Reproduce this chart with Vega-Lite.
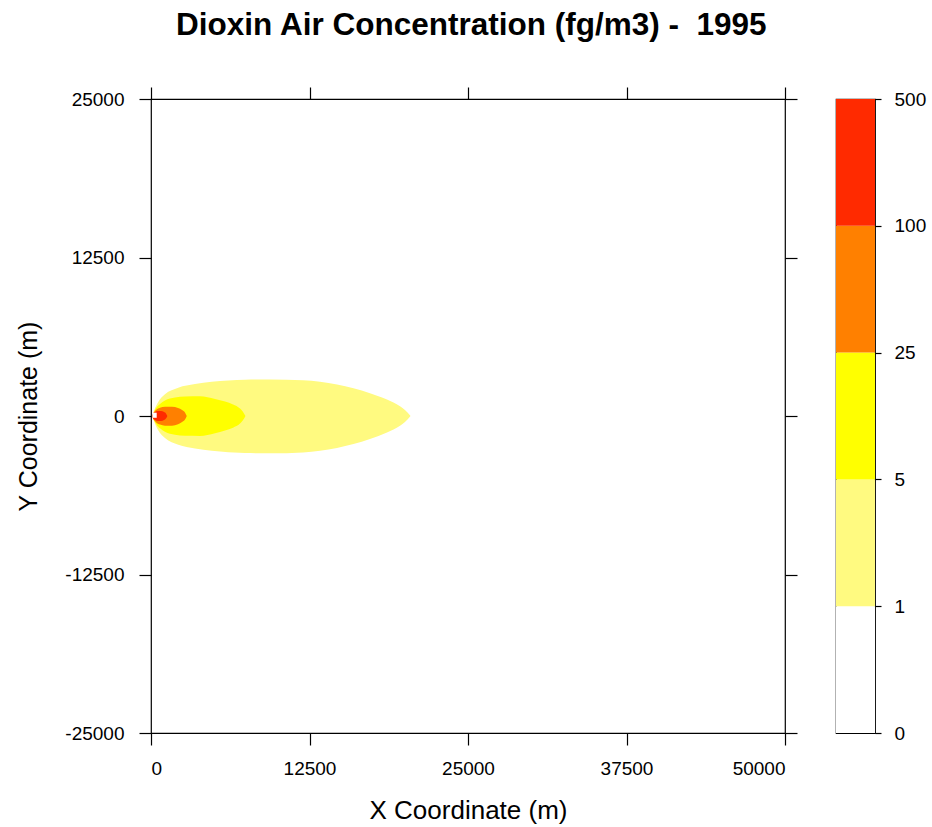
{
  "$schema": "https://vega.github.io/schema/vega-lite/v6.json",
  "background": "white",
  "padding": {"left": 16, "top": 10, "right": 5, "bottom": 5},
  "title": {
    "text": "Dioxin Air Concentration (fg/m3) -\u00a0 1995",
    "font": "Liberation Sans",
    "fontSize": 31.5,
    "fontWeight": "bold",
    "color": "black",
    "anchor": "middle",
    "offset": 44
  },
  "datasets": {
    "plume": [
      {"level": "1–5", "x": 100, "ylo": 0, "yhi": 0},
      {"level": "1–5", "x": 260, "ylo": -480, "yhi": 470},
      {"level": "1–5", "x": 580, "ylo": -1150, "yhi": 1130},
      {"level": "1–5", "x": 1100, "ylo": -1740, "yhi": 1710},
      {"level": "1–5", "x": 2150, "ylo": -2270, "yhi": 2230},
      {"level": "1–5", "x": 3470, "ylo": -2570, "yhi": 2520},
      {"level": "1–5", "x": 4790, "ylo": -2750, "yhi": 2700},
      {"level": "1–5", "x": 7410, "ylo": -2920, "yhi": 2860},
      {"level": "1–5", "x": 9390, "ylo": -2940, "yhi": 2880},
      {"level": "1–5", "x": 11990, "ylo": -2870, "yhi": 2810},
      {"level": "1–5", "x": 14670, "ylo": -2520, "yhi": 2480},
      {"level": "1–5", "x": 17270, "ylo": -1820, "yhi": 1800},
      {"level": "1–5", "x": 18610, "ylo": -1310, "yhi": 1300},
      {"level": "1–5", "x": 19640, "ylo": -770, "yhi": 760},
      {"level": "1–5", "x": 20030, "ylo": -480, "yhi": 480},
      {"level": "1–5", "x": 20470, "ylo": 0, "yhi": 0},

      {"level": "5–25", "x": 120, "ylo": 0, "yhi": 0},
      {"level": "5–25", "x": 240, "ylo": -320, "yhi": 320},
      {"level": "5–25", "x": 470, "ylo": -720, "yhi": 710},
      {"level": "5–25", "x": 710, "ylo": -960, "yhi": 950},
      {"level": "5–25", "x": 1100, "ylo": -1240, "yhi": 1220},
      {"level": "5–25", "x": 1890, "ylo": -1480, "yhi": 1460},
      {"level": "5–25", "x": 2680, "ylo": -1560, "yhi": 1540},
      {"level": "5–25", "x": 3860, "ylo": -1570, "yhi": 1550},
      {"level": "5–25", "x": 5050, "ylo": -1360, "yhi": 1340},
      {"level": "5–25", "x": 5840, "ylo": -1150, "yhi": 1140},
      {"level": "5–25", "x": 6470, "ylo": -920, "yhi": 910},
      {"level": "5–25", "x": 7020, "ylo": -600, "yhi": 590},
      {"level": "5–25", "x": 7260, "ylo": -320, "yhi": 320},
      {"level": "5–25", "x": 7450, "ylo": 0, "yhi": 0},

      {"level": "25–100", "x": 80, "ylo": 0, "yhi": 0},
      {"level": "25–100", "x": 200, "ylo": -250, "yhi": 240},
      {"level": "25–100", "x": 390, "ylo": -490, "yhi": 470},
      {"level": "25–100", "x": 710, "ylo": -680, "yhi": 650},
      {"level": "25–100", "x": 1100, "ylo": -760, "yhi": 730},
      {"level": "25–100", "x": 1660, "ylo": -760, "yhi": 730},
      {"level": "25–100", "x": 2130, "ylo": -650, "yhi": 630},
      {"level": "25–100", "x": 2450, "ylo": -480, "yhi": 470},
      {"level": "25–100", "x": 2680, "ylo": -280, "yhi": 280},
      {"level": "25–100", "x": 2820, "ylo": 0, "yhi": 0},

      {"level": "100–500", "x": 80, "ylo": 0, "yhi": 0},
      {"level": "100–500", "x": 160, "ylo": -200, "yhi": 200},
      {"level": "100–500", "x": 320, "ylo": -320, "yhi": 320},
      {"level": "100–500", "x": 550, "ylo": -400, "yhi": 390},
      {"level": "100–500", "x": 790, "ylo": -400, "yhi": 390},
      {"level": "100–500", "x": 1030, "ylo": -320, "yhi": 310},
      {"level": "100–500", "x": 1180, "ylo": -200, "yhi": 200},
      {"level": "100–500", "x": 1290, "ylo": 0, "yhi": 0},

      {"level": ">500", "x": 110, "ylo": -140, "yhi": 260},
      {"level": ">500", "x": 450, "ylo": -140, "yhi": 260}
    ],
    "key": [
      {"level": "0–1", "lower": 0, "upper": 1},
      {"level": "1–5", "lower": 1, "upper": 2},
      {"level": "5–25", "lower": 2, "upper": 3},
      {"level": "25–100", "lower": 3, "upper": 4},
      {"level": "100–500", "lower": 4, "upper": 5}
    ]
  },
  "hconcat": [
    {
      "width": 634,
      "height": 634,
      "data": {"name": "plume"},
      "layer": [
        {
          "transform": [{"filter": "datum.level === '1–5'"}],
          "mark": {"type": "area", "interpolate": "monotone"},
          "encoding": {
            "x": {
              "field": "x", "type": "quantitative",
              "scale": {"domain": [0, 50000], "nice": false, "zero": false},
              "axis": {"orient": "bottom", "values": [0, 12500, 25000, 37500, 50000], "format": "d", "title": "X Coordinate (m)", "labelPadding": 14, "titlePadding": 19, "titleFontSize": 26}
            },
            "y": {
              "field": "ylo", "type": "quantitative",
              "scale": {"domain": [-25000, 25000], "nice": false, "zero": false},
              "axis": {"orient": "left", "values": [-25000, -12500, 0, 12500, 25000], "format": "d", "labelExpr": "replace(datum.label, '\u2212', '-')", "title": "Y Coordinate (m)", "labelPadding": 15, "titlePadding": 23}
            },
            "y2": {"field": "yhi"},
            "color": {
              "field": "level", "type": "nominal", "legend": null,
              "scale": {
                "domain": ["0–1", "1–5", "5–25", "25–100", "100–500", ">500"],
                "range": ["#FFFFFF", "#FFFA80", "#FFFF00", "#FF8000", "#FF2A00", "#FFFFFF"]
              }
            }
          }
        },
        {
          "transform": [{"filter": "datum.level === '5–25'"}],
          "mark": {"type": "area", "interpolate": "monotone"},
          "encoding": {
            "x": {"field": "x", "type": "quantitative", "axis": null},
            "y": {"field": "ylo", "type": "quantitative", "axis": null},
            "y2": {"field": "yhi"},
            "color": {"field": "level", "type": "nominal", "legend": null}
          }
        },
        {
          "transform": [{"filter": "datum.level === '25–100'"}],
          "mark": {"type": "area", "interpolate": "monotone"},
          "encoding": {
            "x": {"field": "x", "type": "quantitative", "axis": null},
            "y": {"field": "ylo", "type": "quantitative", "axis": null},
            "y2": {"field": "yhi"},
            "color": {"field": "level", "type": "nominal", "legend": null}
          }
        },
        {
          "transform": [{"filter": "datum.level === '100–500'"}],
          "mark": {"type": "area", "interpolate": "monotone"},
          "encoding": {
            "x": {"field": "x", "type": "quantitative", "axis": null},
            "y": {"field": "ylo", "type": "quantitative", "axis": null},
            "y2": {"field": "yhi"},
            "color": {"field": "level", "type": "nominal", "legend": null}
          }
        },
        {
          "transform": [{"filter": "datum.level === '>500'"}],
          "mark": {"type": "area"},
          "encoding": {
            "x": {
              "field": "x", "type": "quantitative",
              "axis": {"orient": "top", "values": [0, 12500, 25000, 37500, 50000], "labels": false, "title": null}
            },
            "y": {
              "field": "ylo", "type": "quantitative",
              "axis": {"orient": "right", "values": [-25000, -12500, 0, 12500, 25000], "labels": false, "title": null}
            },
            "y2": {"field": "yhi"},
            "color": {"field": "level", "type": "nominal", "legend": null}
          }
        }
      ],
      "resolve": {"axis": {"x": "independent", "y": "independent"}}
    },
    {
      "width": 39,
      "height": 634,
      "data": {"name": "key"},
      "mark": {"type": "rect"},
      "encoding": {
        "y": {
          "field": "lower", "type": "quantitative",
          "scale": {"domain": [0, 5], "nice": false, "zero": false},
          "axis": {
            "orient": "right",
            "values": [0, 1, 2, 3, 4, 5],
            "labelExpr": "['0', '1', '5', '25', '100', '500'][datum.value]",
            "title": null,
            "tickSize": 6,
            "labelPadding": 13
          }
        },
        "y2": {"field": "upper"},
        "color": {
          "field": "level", "type": "nominal", "legend": null,
          "scale": {
            "domain": ["0–1", "1–5", "5–25", "25–100", "100–500", ">500"],
            "range": ["#FFFFFF", "#FFFA80", "#FFFF00", "#FF8000", "#FF2A00", "#FFFFFF"]
          }
        }
      }
    }
  ],
  "spacing": 51,
  "bounds": "flush",
  "resolve": {"scale": {"color": "shared"}},
  "config": {
    "font": "Liberation Sans",
    "view": {"stroke": "black", "strokeWidth": 1.2},
    "axis": {
      "domain": false,
      "grid": false,
      "ticks": true,
      "tickColor": "black",
      "tickWidth": 1.2,
      "tickSize": 12,
      "labelFont": "Liberation Sans",
      "labelFontSize": 19,
      "labelColor": "black",
      "titleFont": "Liberation Sans",
      "titleFontSize": 25,
      "titleFontWeight": "normal",
      "titleColor": "black"
    }
  }
}
